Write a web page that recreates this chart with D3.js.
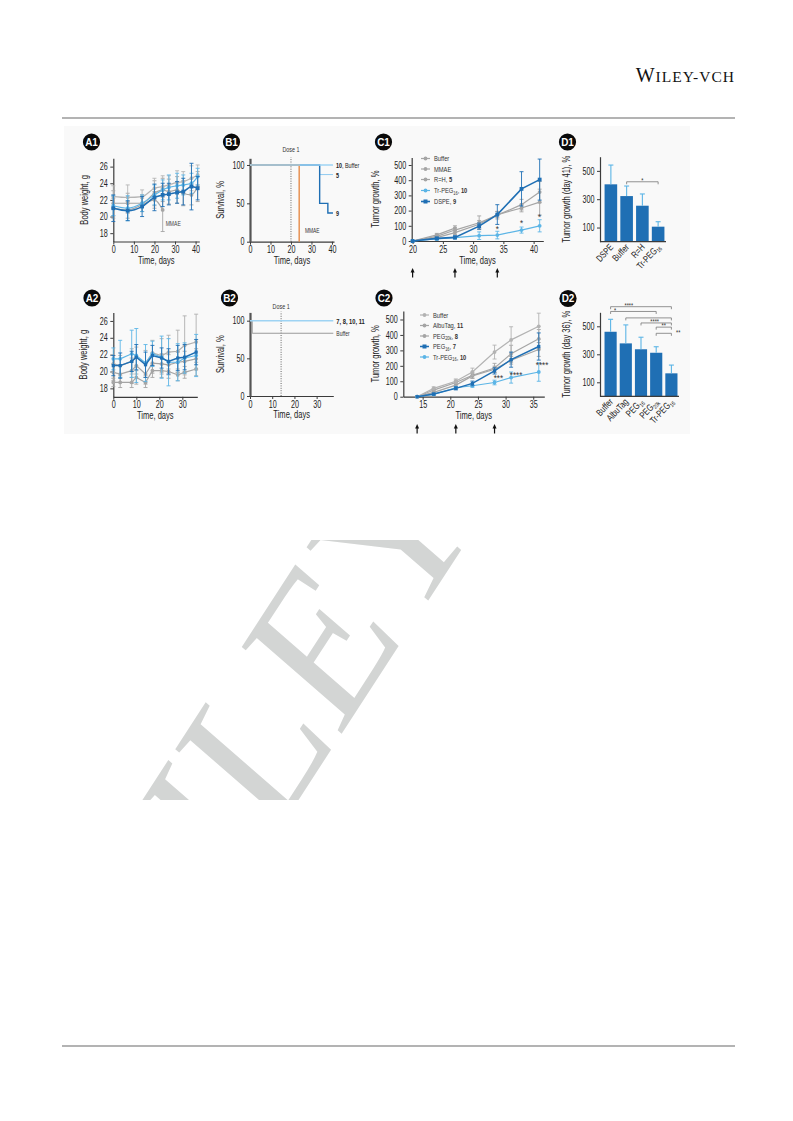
<!DOCTYPE html>
<html><head><meta charset="utf-8">
<script src="https://cdn.jsdelivr.net/npm/d3@7"></script>
<style>
body{margin:0;background:#fff}
svg{display:block}
</style>
</head><body>
<svg id="chart" width="793" height="1121"></svg>
<script>
// ---------------- DATA ----------------
// A1 body weight (g)
const a1Days = [0,7,14,20,24,27,31,34,38,41];
const a1Buffer = [22.4,22.3,22.4,23.4,23.6,23.8,24.1,24.2,24.6,25.0];
const a1BufferErr = [1.3,1.5,0.8,1.2,1.3,1.1,1.4,1.2,1.5,1.2];
const a1RH = [21.6,21.6,21.6,22.8,23.2,23.0,23.2,22.8,22.6,23.6];
const a1RHErr = [1.5,1.2,1.0,1.5,1.4,1.5,1.6,1.5,1.2,1.8];
const a1MMAEDays = [0,7,14,20,24];
const a1MMAE = [21.0,20.8,21.4,22.0,20.8];
const a1MMAEErr = [1.2,1.0,0.8,1.0,2.6];
const a1TrPEG = [21.3,21.0,21.6,22.6,23.2,23.5,23.7,23.8,24.0,24.8];
const a1TrPEGErr = [1.2,1.5,1.0,1.2,1.2,1.5,1.5,1.2,1.2,1.0];
const a1DSPE = [21.0,20.7,21.2,22.3,22.6,22.7,22.9,23.0,23.6,23.4];
const a1DSPEErr = [1.6,1.2,1.2,1.6,1.4,1.3,1.3,1.6,2.8,1.4];
const aYTicks = [18,20,22,24,26];
const a1XTicks = [0,10,20,30,40];

// A2 body weight (g)
const a2Days = [0,3,8,10,14,17,21,24,28,31,36];
const a2Albu = [20.9,20.7,21.2,21.7,21.0,22.2,21.9,22.3,22.4,23.1,23.5];
const a2AlbuErr = [1.0,1.2,1.5,1.2,1.5,1.5,2.0,2.0,2.5,3.5,3.3];
const a2PEG7 = [20.7,20.7,21.2,21.7,20.8,21.9,21.6,21.2,21.6,21.7,22.3];
const a2PEG7Err = [1.2,1.5,1.2,1.5,1.5,1.2,1.2,1.5,1.5,1.5,1.5];
const a2TrPEG = [21.5,21.5,22.1,21.9,21.0,22.1,21.7,21.1,21.1,21.6,21.9];
const a2TrPEGErr = [1.3,2.2,2.8,3.2,2.2,1.5,2.5,2.8,2.2,1.8,2.5];
const a2Buffer = [19.9,19.7,20.1,20.7,19.7,21.0,20.9,20.8,21.1,21.2,21.5];
const a2BufferErr = [1.0,1.0,1.5,1.0,1.2,1.2,1.2,1.2,1.2,1.2,1.2];
const a2PEG8 = [18.7,18.7,18.7,19.3,18.7,20.1,20.1,20.0,19.6,19.9,20.3];
const a2PEG8Err = [0.5,0.6,0.6,0.8,0.6,0.8,0.8,0.8,0.7,0.7,0.8];
const a2XTicks = [0,10,20,30];

// B1 survival (%), step functions
const b1AllDays = [0,40.5];            const b1All = [100,100];       // 10, Buffer
const b1RHDays = [0,34,40.5];          const b1RH = [100,87.5,87.5];  // 5
const b1DSPEDays = [0,34,38,40.5];     const b1DSPE = [100,50,37.5,37.5]; // 9
const b1MMAEDays = [0,24,24];          const b1MMAE = [100,0,0];
const b1Dose = 20;
const bYTicks = [0,50,100];
const b1XTicks = [0,10,20,30,40];
// B2 survival
const b2AllDays = [0,37.5];            const b2All = [100,100];       // 7, 8, 10, 11
const b2BufferDays = [0,1,37.5];       const b2Buffer = [100,83.3,83.3];
const b2Dose = 14;
const b2XTicks = [0,10,20,30];

// C1 tumor growth (%)
const c1Days = [20,24,27,31,34,38,41];
const c1Buffer = [0,30,72,120,170,239,322];
const c1BufferErr = [0,8,15,45,25,35,70];
const c1MMAEDays = [20,24,27];
const c1MMAE = [0,40,85];
const c1MMAEErr = [0,10,15];
const c1RH = [0,22,55,110,174,217,256];
const c1RHErr = [0,8,12,25,20,25,85];
const c1TrPEG = [0,13,22,35,39,72,100];
const c1TrPEGErr = [0,6,8,25,25,20,40];
const c1DSPE = [0,17,24,98,174,343,404];
const c1DSPEErr = [0,8,10,20,65,113,135];
const c1StarDays = [34,38,41];
const c1StarVals = [86,122,166];
const c1StarText = ['*','*','*'];
const c1Doses = [20,27,34];
const cYTicks = [0,100,200,300,400,500];
const c1XTicks = [20,25,30,35,40];

// C2 tumor growth (%)
const c2Days = [14,17,21,24,28,31,36];
const c2Buffer = [0,54,100,160,289,368,456];
const c2BufferErr = [0,10,15,25,45,85,85];
const c2Albu = [0,43,92,139,186,278,375];
const c2AlbuErr = [0,8,15,20,30,55,60];
const c2PEG8 = [0,28,75,135,178,236,306];
const c2PEG8Err = [0,8,12,15,20,25,45];
const c2PEG7 = [0,17,54,86,167,240,325];
const c2PEG7Err = [0,6,10,15,20,49,88];
const c2TrPEG = [0,15,58,71,92,124,160];
const c2TrPEGErr = [0,5,8,10,15,36,60];
const c2StarDays = [28.7,31.9,36.6];
const c2StarVals = [128,150,215];
const c2StarText = ['***','****','****'];
const c2Doses = [14,21,28];
const c2XTicks = [15,20,25,30,35];

// D1 bars, day 41
const d1Cats = ['DSPE','Buffer','R=H','Tr-PEG'];
const d1Subs = ['','','','16'];
const d1Vals = [405,322,254,106];
const d1Errs = [136,71,83,35];
// D2 bars, day 36
const d2Cats = ['Buffer','AlbuTag','PEG','PEG ','Tr-PEG'];
const d2Subs = ['','','16','20k','16'];
const d2Vals = [461,378,336,311,164];
const d2Errs = [89,132,86,43,59];
const dYTicks = [100,300,500];
// significance brackets: [fromIndex, toIndex, value level, label, label position (0..1)]
const d1Sig = [[1,3,423,'*',0.5]];
const d2Sig = [[0,4,640,'****',0.3],[0,3,606,'*',0.1],[1,4,560,'',0.5],[2,4,524,'****',0.45],[3,4,494,'**',0.5],[3,4,450,'**',1.45]];

// ---------------- STYLE ----------------
const GREY = '#a5a5a5', BLUE = '#1f6fb4', LBLUE = '#5cb5e6', ORANGE = '#e5843c', AX = '#3b3b3b';
const FONT = '"Liberation Sans",Arial,sans-serif';
const SX = 0.72;   // horizontal condensing of the figure font

const svg = d3.select('#chart');

// condensed text helper: positioned by transform
function T(x, y, str, o){
  o = o || {};
  const t = svg.append('text')
    .attr('transform',`translate(${x},${y})${o.rot?` rotate(${o.rot})`:''} scale(${o.sx||SX},1)`)
    .attr('text-anchor',o.anchor||'start').attr('font-family',o.family||FONT)
    .attr('font-size',o.size||9).attr('fill',o.fill||'#222');
  if (o.weight) t.attr('font-weight',o.weight);
  if (str !== null && str !== undefined) t.text(str);
  return t;
}

// ---------------- PAGE FRAME ----------------
// watermark
const defs = svg.append('defs');
defs.append('clipPath').attr('id','wmclip').append('rect').attr('x',62).attr('y',540).attr('width',673).attr('height',260);
svg.append('g').attr('clip-path','url(#wmclip)').append('text')
  .attr('transform','translate(133,1055) rotate(-57) skewX(-8)')
  .attr('font-family','"Liberation Serif","Times New Roman",serif')
  .attr('font-size',200)
  .attr('fill','#d3d5d4')
  .text('WILEY');

// header
const hdr = svg.append('text').attr('x',735).attr('y',82).attr('text-anchor','end')
  .attr('font-family','"Liberation Serif","Times New Roman",serif').attr('fill','#111').attr('letter-spacing',1);
hdr.append('tspan').attr('font-size',20).text('W');
hdr.append('tspan').attr('font-size',15.5).text('ILEY');
hdr.append('tspan').attr('font-size',15.5).text('-VCH');
svg.append('line').attr('x1',62).attr('x2',735).attr('y1',118).attr('y2',118).attr('stroke','#b3b3b3').attr('stroke-width',2);
svg.append('line').attr('x1',62).attr('x2',735).attr('y1',1046).attr('y2',1046).attr('stroke','#b3b3b3').attr('stroke-width',2);

// figure background
svg.append('rect').attr('x',64).attr('y',126).attr('width',626).attr('height',308).attr('fill','#f9f9f9');

// ---------------- HELPERS ----------------
function styleAxis(sel, left){
  sel.select('.domain').attr('stroke',AX).attr('stroke-width',1.2);
  sel.selectAll('.tick line').attr('stroke',AX).attr('stroke-width',1);
  const tx = sel.selectAll('.tick text').attr('font-family',FONT).attr('font-size',10).attr('fill','#222')
    .attr('transform',`scale(${SX},1)`);
  if (left) tx.attr('x',-5.5/SX);
}
function axes(x, y, xTicks, yTicks, yW){
  svg.append('g').attr('transform',`translate(0,${y.range()[0]})`)
    .call(d3.axisBottom(x).tickValues(xTicks).tickSize(3).tickSizeOuter(0).tickPadding(1.5)).call(s=>styleAxis(s,false));
  const gy = svg.append('g').attr('transform',`translate(${x.range()[0]},0)`)
    .call(d3.axisLeft(y).tickValues(yTicks).tickSize(3).tickSizeOuter(0).tickPadding(2)).call(s=>styleAxis(s,true));
  if (yW) gy.select('.domain').attr('stroke-width',yW).attr('stroke','#555');
}
function xTitle(x, yPos, txt){
  const r = x.range();
  T((r[0]+r[1])/2, yPos, txt, {anchor:'middle', size:10.5});
}
function yTitle(xPos, y, txt){
  const r = y.range();
  T(xPos, (r[0]+r[1])/2, txt, {anchor:'middle', size:10.5, rot:-90});
}
function badge(cx, cy, txt){
  svg.append('circle').attr('cx',cx).attr('cy',cy).attr('r',8.6).attr('fill','#0a0a0a');
  T(cx, cy+3.7, txt, {anchor:'middle', size:11, weight:'bold', fill:'#fff', sx:0.9});
}
function series(x, y, days, vals, errs, color, opt){
  opt = opt || {};
  const pts = days.map((d,i)=>({d, v:vals[i], e:errs ? errs[i] : 0}));
  const g = svg.append('g');
  const eb = g.selectAll('g.eb').data(pts.filter(p=>p.e>0)).join('g');
  eb.append('line').attr('x1',p=>x(p.d)).attr('x2',p=>x(p.d))
    .attr('y1',p=>y(p.v-p.e)).attr('y2',p=>y(p.v+p.e)).attr('stroke',color).attr('stroke-width',0.9);
  [-1,1].forEach(s=>{
    eb.append('line').attr('x1',p=>x(p.d)-2).attr('x2',p=>x(p.d)+2)
      .attr('y1',p=>y(p.v+s*p.e)).attr('y2',p=>y(p.v+s*p.e)).attr('stroke',color).attr('stroke-width',0.9);
  });
  const line = d3.line().x(p=>x(p.d)).y(p=>y(p.v)).curve(opt.curve || d3.curveLinear);
  g.append('path').datum(pts).attr('d',line).attr('fill','none').attr('stroke',color).attr('stroke-width',opt.w || 1.2);
  const ms = opt.m || 1.9;
  if (opt.square){
    g.selectAll('rect.m').data(pts).join('rect').attr('x',p=>x(p.d)-ms).attr('y',p=>y(p.v)-ms)
      .attr('width',ms*2).attr('height',ms*2).attr('fill',color);
  } else {
    g.selectAll('circle.m').data(pts).join('circle').attr('cx',p=>x(p.d)).attr('cy',p=>y(p.v)).attr('r',ms).attr('fill',color);
  }
}
function stepLine(x, y, days, vals, color, w){
  const pts = days.map((d,i)=>({d, v:vals[i]}));
  svg.append('path').datum(pts).attr('d', d3.line().x(p=>x(p.d)).y(p=>y(p.v)).curve(d3.curveStepAfter))
    .attr('fill','none').attr('stroke',color).attr('stroke-width',w||1.4);
}
function legend(x0, ys, items){
  items.forEach((it,i)=>{
    const yy = ys[i];
    svg.append('line').attr('x1',x0).attr('x2',x0+9).attr('y1',yy).attr('y2',yy).attr('stroke',it.c).attr('stroke-width',it.w||1.2);
    if (it.sq) svg.append('rect').attr('x',x0+4.5-2).attr('y',yy-2).attr('width',4).attr('height',4).attr('fill',it.c);
    else svg.append('circle').attr('cx',x0+4.5).attr('cy',yy).attr('r',1.9).attr('fill',it.c);
    const t = T(x0+13, yy+2.6, null, {size:8, fill:'#333'});
    t.append('tspan').text(it.t);
    if (it.sub) t.append('tspan').attr('font-size',5.5).attr('dy',1.8).text(it.sub);
    if (it.b){ t.append('tspan').attr('dy',it.sub? -1.8:0).text(', '); t.append('tspan').attr('font-weight','bold').text(it.b); }
  });
}
function arrows(x, yTop, days){
  days.forEach(d=>{
    const cx = x(d);
    svg.append('line').attr('x1',cx).attr('x2',cx).attr('y1',yTop+2).attr('y2',yTop+8.5).attr('stroke','#111').attr('stroke-width',1.2);
    svg.append('path').attr('d',`M${cx-2},${yTop+3.5} L${cx},${yTop-1} L${cx+2},${yTop+3.5} Z`).attr('fill','#111');
  });
}
function stars(x, y, days, vals, txt){
  days.forEach((d,i)=>{ T(x(d), y(vals[i])+4, txt[i], {anchor:'middle', size:9.5, fill:'#333', sx:0.85}); });
}
function bars(x, y, cats, subs, vals, errs, sig){
  const g = svg.append('g');
  const data = cats.map((c,i)=>({c, s:subs[i], v:vals[i], e:errs[i]}));
  g.selectAll('rect').data(data).join('rect')
    .attr('x',d=>x(d.c)).attr('width',x.bandwidth()).attr('y',d=>y(d.v)).attr('height',d=>y(0)-y(d.v)).attr('fill',BLUE);
  const cx = d=>x(d.c)+x.bandwidth()/2;
  g.selectAll('line.e').data(data).join('line').attr('x1',cx).attr('x2',cx).attr('y1',d=>y(d.v)).attr('y2',d=>y(d.v+d.e))
    .attr('stroke',LBLUE).attr('stroke-width',1.1);
  g.selectAll('line.c').data(data).join('line').attr('x1',d=>cx(d)-2.5).attr('x2',d=>cx(d)+2.5).attr('y1',d=>y(d.v+d.e)).attr('y2',d=>y(d.v+d.e))
    .attr('stroke',LBLUE).attr('stroke-width',1.1);
  const y0 = y(0), r = x.range();
  svg.append('line').attr('x1',r[0]-3).attr('x2',r[1]).attr('y1',y0).attr('y2',y0).attr('stroke',AX).attr('stroke-width',1.2);
  svg.append('g').attr('transform',`translate(${r[0]-3},0)`)
    .call(d3.axisLeft(y).tickValues(dYTicks).tickSize(3).tickSizeOuter(0).tickPadding(2)).call(s=>styleAxis(s,true));
  data.forEach(d=>{
    const t = T(cx(d)+3, y0+6, null, {rot:-47, anchor:'end', size:9.5, sx:0.78});
    t.append('tspan').text(d.c.trim());
    if (d.s) t.append('tspan').attr('font-size',6).attr('dy',2).text(d.s);
  });
  sig.forEach(s=>{
    const xa = cx(data[s[0]]), xb = cx(data[s[1]]), yy = y(s[2]);
    svg.append('path').attr('d',`M${xa},${yy+2.5} V${yy} H${xb} V${yy+2.5}`).attr('fill','none').attr('stroke','#777').attr('stroke-width',0.8);
    if (s[3]) T(xa+(xb-xa)*s[4], yy+1.2, s[3], {anchor:'middle', size:7, fill:'#333', sx:0.8});
  });
}

// ---------------- PANEL A1 ----------------
badge(91.5,142,'A1');
{
  const x = d3.scaleLinear().domain([0,41.8]).range([113.3,199.3]);
  const y = d3.scaleLinear().domain([17,27]).range([241.5,158.3]);
  axes(x,y,a1XTicks,aYTicks);
  xTitle(x,263.5,'Time, days'); yTitle(88,y,'Body weight, g');
  const c = {curve:d3.curveMonotoneX};
  series(x,y,a1MMAEDays,a1MMAE,a1MMAEErr,GREY,c);
  series(x,y,a1Days,a1RH,a1RHErr,GREY,c);
  series(x,y,a1Days,a1Buffer,a1BufferErr,'#b5b5b5',c);
  series(x,y,a1Days,a1TrPEG,a1TrPEGErr,LBLUE,c);
  series(x,y,a1Days,a1DSPE,a1DSPEErr,BLUE,{curve:d3.curveMonotoneX,square:true,w:1.5});
  T(x(24)+3, y(18.9), 'MMAE', {size:7, fill:'#444'});
}
// ---------------- PANEL B1 ----------------
badge(231.5,142,'B1');
{
  const x = d3.scaleLinear().domain([0,41]).range([250,334]);
  const y = d3.scaleLinear().domain([0,108.7]).range([241.7,158.3]);
  axes(x,y,b1XTicks,bYTicks,2.2);
  xTitle(x,263.5,'Time, days'); yTitle(224,y,'Survival, %');
  svg.append('line').attr('x1',x(b1Dose)).attr('x2',x(b1Dose)).attr('y1',y(0)).attr('y2',y(110)).attr('stroke','#555').attr('stroke-width',0.9).attr('stroke-dasharray','1,1.4');
  T(x(b1Dose), y(116.5), 'Dose 1', {anchor:'middle', size:7.5, fill:'#333'});
  stepLine(x,y,b1RHDays,b1RH,'#8fcaf0',1);
  stepLine(x,y,b1DSPEDays,b1DSPE,BLUE,1.4);
  stepLine(x,y,b1MMAEDays,b1MMAE,ORANGE,1.3);
  stepLine(x,y,b1AllDays,b1All,'#9ed3f3',1.6);
  const lab = (v,parts)=>{const t=T(x(40.5)+3, y(v)+3, null, {size:7.5});
    parts.forEach(p=>t.append('tspan').attr('font-weight',p[1]?'bold':'normal').text(p[0]));};
  lab(100,[['10',1],[', Buffer',0]]);
  lab(87.5,[['5',1]]);
  lab(37.5,[['9',1]]);
  T(x(26.8), y(11), 'MMAE', {size:6.8, fill:'#333'});
}
// ---------------- PANEL C1 ----------------
badge(383.5,142,'C1');
{
  const x = d3.scaleLinear().domain([19.85,41.6]).range([411.7,543.3]);
  const y = d3.scaleLinear().domain([0,550]).range([241,157.4]);
  axes(x,y,c1XTicks,cYTicks);
  xTitle(x,263.5,'Time, days'); yTitle(378.5,y,'Tumor growth, %');
  series(x,y,c1MMAEDays,c1MMAE,c1MMAEErr,GREY);
  series(x,y,c1Days,c1RH,c1RHErr,GREY);
  series(x,y,c1Days,c1Buffer,c1BufferErr,GREY);
  series(x,y,c1Days,c1TrPEG,c1TrPEGErr,LBLUE);
  series(x,y,c1Days,c1DSPE,c1DSPEErr,BLUE,{square:true,w:1.6});
  stars(x,y,c1StarDays,c1StarVals,c1StarText);
  legend(421,[158.5,169,179.5,190.5,201.5],[
    {t:'Buffer',c:GREY},{t:'MMAE',c:GREY},{t:'R=H',b:'5',c:GREY},{t:'Tr-PEG',sub:'16',b:'10',c:LBLUE},{t:'DSPE',b:'9',c:BLUE,sq:true,w:1.6}]);
  arrows(x,269,c1Doses);
}
// ---------------- PANEL D1 ----------------
badge(567.5,142,'D1');
{
  const x = d3.scaleBand().domain(d1Cats).range([603,666]).paddingInner(0.2).paddingOuter(0.1);
  const y = d3.scaleLinear().domain([0,600]).range([241.7,156.7]);
  bars(x,y,d1Cats,d1Subs,d1Vals,d1Errs,d1Sig);
  yTitle(570,y,'Tumor growth (day 41), %');
}
// ---------------- PANEL A2 ----------------
badge(92,298,'A2');
{
  const x = d3.scaleLinear().domain([0,36.5]).range([113.3,197.3]);
  const y = d3.scaleLinear().domain([17,27]).range([396.8,312.5]);
  axes(x,y,a2XTicks,aYTicks);
  xTitle(x,418.5,'Time, days'); yTitle(86.5,y,'Body weight, g');
  series(x,y,a2Days,a2PEG8,a2PEG8Err,GREY);
  series(x,y,a2Days,a2Buffer,a2BufferErr,GREY);
  series(x,y,a2Days,a2Albu,a2AlbuErr,'#b0b0b0');
  series(x,y,a2Days,a2TrPEG,a2TrPEGErr,LBLUE);
  series(x,y,a2Days,a2PEG7,a2PEG7Err,BLUE,{square:true,w:1.5,m:1.6});
}
// ---------------- PANEL B2 ----------------
badge(229.5,298,'B2');
{
  const x = d3.scaleLinear().domain([0,37.5]).range([250,333.3]);
  const y = d3.scaleLinear().domain([0,111]).range([396,312.4]);
  axes(x,y,b2XTicks,bYTicks,2.2);
  xTitle(x,417.5,'Time, days'); yTitle(224,y,'Survival, %');
  svg.append('line').attr('x1',x(b2Dose)).attr('x2',x(b2Dose)).attr('y1',y(0)).attr('y2',y(112)).attr('stroke','#555').attr('stroke-width',0.9).attr('stroke-dasharray','1,1.4');
  T(x(b2Dose), y(116), 'Dose 1', {anchor:'middle', size:7.5, fill:'#333'});
  stepLine(x,y,b2BufferDays,b2Buffer,'#9a9a9a',1);
  stepLine(x,y,b2AllDays,b2All,'#9ed3f3',1.6);
  T(x(37.5)+3, y(100)+3, '7, 8, 10, 11', {size:8, weight:'bold'});
  T(x(37.5)+3, y(83.3)+3, 'Buffer', {size:7, fill:'#333'});
}
// ---------------- PANEL C2 ----------------
badge(384,298,'C2');
{
  const x = d3.scaleLinear().domain([11.5,37]).range([403.3,544.3]);
  const y = d3.scaleLinear().domain([0,555]).range([396.7,311]);
  axes(x,y,c2XTicks,cYTicks);
  xTitle(x,418.5,'Time, days'); yTitle(378.5,y,'Tumor growth, %');
  series(x,y,c2Days,c2PEG8,c2PEG8Err,GREY);
  series(x,y,c2Days,c2Albu,c2AlbuErr,GREY);
  series(x,y,c2Days,c2Buffer,c2BufferErr,'#b3b3b3');
  series(x,y,c2Days,c2TrPEG,c2TrPEGErr,LBLUE);
  series(x,y,c2Days,c2PEG7,c2PEG7Err,BLUE,{square:true,w:1.5,m:1.6});
  stars(x,y,c2StarDays,c2StarVals,c2StarText);
  legend(420,[315,325.5,336,346.5,357],[
    {t:'Buffer',c:'#b3b3b3'},{t:'AlbuTag',b:'11',c:GREY},{t:'PEG',sub:'20k',b:'8',c:GREY},{t:'PEG',sub:'16',b:'7',c:BLUE,sq:true,w:1.5},{t:'Tr-PEG',sub:'16',b:'10',c:LBLUE}]);
  arrows(x,425,c2Doses);
}
// ---------------- PANEL D2 ----------------
badge(568,298.5,'D2');
{
  const x = d3.scaleBand().domain(d2Cats).range([603,679]).paddingInner(0.2).paddingOuter(0.1);
  const y = d3.scaleLinear().domain([0,600]).range([396.3,312.3]);
  bars(x,y,d2Cats,d2Subs,d2Vals,d2Errs,d2Sig);
  yTitle(570,y,'Tumor growth (day 36), %');
}
</script>
</body></html>
